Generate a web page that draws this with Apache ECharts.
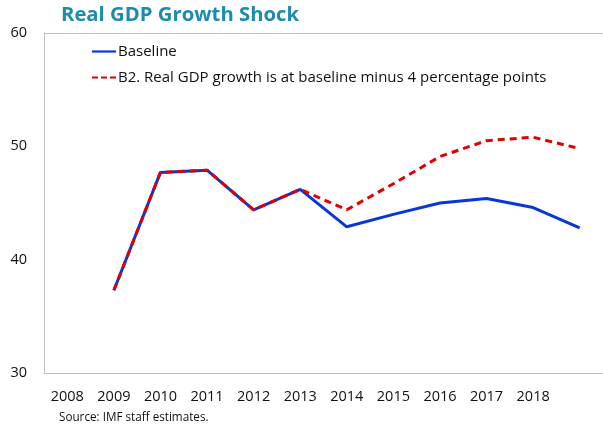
<!DOCTYPE html>
<html>
<head>
<meta charset="utf-8">
<script src="https://cdn.jsdelivr.net/npm/echarts@6/dist/echarts.min.js"></script>
<style>
  html, body { margin: 0; padding: 0; background: #fff; }
  #chart { width: 603px; height: 429px; }
</style>
</head>
<body>
<div id="chart"></div>
<script>
// x axis categories (2019 point has no printed label in the original)
const years = ["2008", "2009", "2010", "2011", "2012", "2013", "2014", "2015", "2016", "2017", "2018", "2019"];
const baseline = [null, 37.3, 47.7, 47.9, 44.4, 46.2, 42.9, 44.0, 45.0, 45.4, 44.6, 42.8];
const shockB2 = [null, 37.3, 47.7, 47.9, 44.4, 46.2, 44.4, 46.7, 49.1, 50.5, 50.8, 49.8];
const yTicks = [30, 40, 50, 60];

const font = "'Open Sans', 'Noto Sans', sans-serif";
const axisGrey = "#bfbfbf";

var myChart = echarts.init(document.getElementById("chart"), null, { renderer: "canvas" });
var option = {
  backgroundColor: "#fff",
  animation: false,
  title: {
    text: "Real GDP Growth Shock",
    left: 56,
    top: 0,
    textStyle: { color: "#1b8bb0", fontSize: 20.3, fontWeight: "bold", fontFamily: font }
  },
  legend: {
    orient: "vertical",
    left: 87,
    top: 39,
    itemWidth: 24,
    itemHeight: 12,
    itemGap: 11,
    textStyle: { color: "#111", fontSize: 15, fontFamily: font, padding: [0, 0, 0, -3] },
    data: [
      { name: "Baseline", icon: "path://M0,5L24,5L24,7.2L0,7.2Z" },
      {
        name: "B2. Real GDP growth is at baseline minus 4 percentage points",
        icon: "path://M0,5L6,5L6,7.2L0,7.2Z M9,5L15,5L15,7.2L9,7.2Z M18,5L24,5L24,7.2L18,7.2Z"
      }
    ]
  },
  grid: {
    left: 44,
    right: -1,
    top: 33,
    bottom: 56
  },
  xAxis: [
    {
      type: "category",
      data: years,
      boundaryGap: true,
      axisLine: { show: true, lineStyle: { color: axisGrey } },
      axisTick: { show: false },
      axisLabel: {
        color: "#111",
        fontSize: 14.5,
        fontFamily: font,
        margin: 16,
        interval: 0,
        formatter: function (v) { return v === "2019" ? "" : v; }
      }
    },
    {
      // top border of the plot area
      type: "category",
      position: "top",
      data: years,
      axisLine: { show: true, lineStyle: { color: axisGrey } },
      axisTick: { show: false },
      axisLabel: { show: false }
    }
  ],
  yAxis: {
    type: "value",
    min: yTicks[0],
    max: yTicks[yTicks.length - 1],
    interval: 10,
    axisLine: { show: true, lineStyle: { color: axisGrey } },
    axisTick: { show: false },
    splitLine: { show: false },
    axisLabel: { color: "#111", fontSize: 14.5, fontFamily: font, margin: 17 }
  },
  series: [
    {
      name: "Baseline",
      type: "line",
      data: baseline,
      symbol: "none",
      lineStyle: { color: "#0a36d6", width: 3 },
      itemStyle: { color: "#0a36d6" },
      z: 2
    },
    {
      name: "B2. Real GDP growth is at baseline minus 4 percentage points",
      type: "line",
      data: shockB2,
      symbol: "none",
      lineStyle: { color: "#e00000", width: 3, type: [7, 5] },
      itemStyle: { color: "#e00000" },
      z: 3
    }
  ],
  graphic: [
    {
      type: "text",
      left: 59,
      top: 412,
      style: { text: "Source: IMF staff estimates.", fill: "#111", font: "11.7px " + font }
    }
  ]
};
myChart.setOption(option);
</script>
</body>
</html>
